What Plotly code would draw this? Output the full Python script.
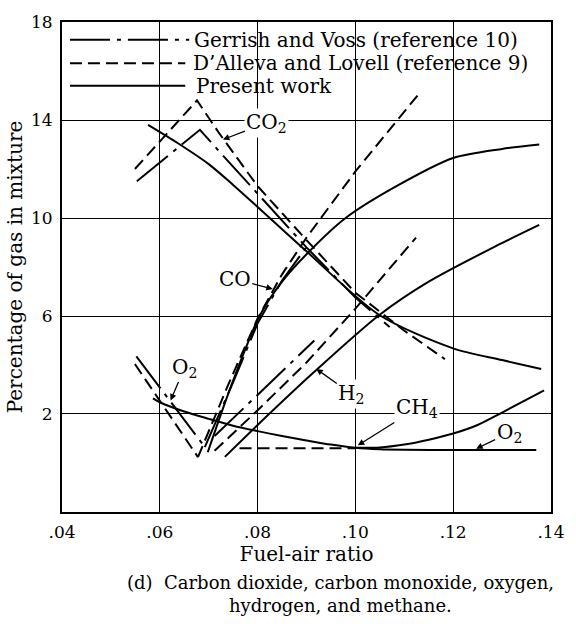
import plotly.graph_objects as go

# ---- axis ticks ----
x_tick_vals = [0.04, 0.06, 0.08, 0.10, 0.12, 0.14]
x_tick_text = [".04", ".06", ".08", ".10", ".12", ".14"]
y_tick_vals = [2, 6, 10, 14, 18]
y_tick_text = ["2", "6", "10", "14", "18"]

# ---- Present work ----
pw_co2_x = [0.0576, 0.0641, 0.070, 0.075, 0.080, 0.090, 0.1049, 0.120, 0.130, 0.138]
pw_co2_y = [13.8, 13.0, 12.2, 11.35, 10.45, 8.64, 6.04, 4.68, 4.2, 3.84]
pw_co_x = [0.0698, 0.0745, 0.0804, 0.085, 0.090, 0.098, 0.1084, 0.120, 0.130, 0.1376]
pw_co_y = [0.44, 3.1, 6.0, 7.4, 8.52, 10.0, 11.3, 12.45, 12.82, 13.0]
pw_h2_x = [0.0733, 0.080, 0.0916, 0.1049, 0.115, 0.1294, 0.1376]
pw_h2_y = [0.25, 1.55, 3.72, 6.04, 7.4, 8.92, 9.72]
pw_o2_x = [0.0586, 0.060, 0.065, 0.070, 0.075, 0.080, 0.085, 0.090, 0.095,
           0.100, 0.105, 0.110, 0.120, 0.130, 0.137]
pw_o2_y = [2.64, 2.48, 2.1, 1.8, 1.52, 1.3, 1.1, 0.92, 0.75,
           0.62, 0.56, 0.54, 0.53, 0.53, 0.53]
pw_ch4_x = [0.100, 0.105, 0.110, 0.115, 0.120, 0.125, 0.130, 0.1386]
pw_ch4_y = [0.62, 0.63, 0.75, 0.95, 1.2, 1.55, 2.06, 2.96]

# ---- Gerrish and Voss (reference 10) ----
gv_co2_x = [0.0553, 0.0682, 0.072, 0.080, 0.090, 0.100, 0.107]
gv_co2_y = [11.5, 13.6, 12.75, 11.0, 8.8, 6.75, 5.55]
gv_o2_x = [0.0552, 0.0692]
gv_o2_y = [4.35, 0.65]
gv_co_x = [0.0692, 0.075, 0.080, 0.085, 0.0905]
gv_co_y = [0.65, 3.3, 5.7, 7.45, 8.95]
gv_h2_x = [0.0712, 0.0916]
gv_h2_y = [1.1, 5.0]

# ---- D'Alleva and Lovell (reference 9) ----
dl_co2_x = [0.0549, 0.0676, 0.072, 0.080, 0.090, 0.100, 0.110, 0.1183]
dl_co2_y = [12.0, 14.8, 13.5, 11.3, 9.1, 6.95, 5.4, 4.24]
dl_o2_x = [0.0549, 0.0678]
dl_o2_y = [4.04, 0.24]
dl_co_x = [0.0678, 0.074, 0.080, 0.085, 0.090, 0.100, 0.1127]
dl_co_y = [0.24, 3.2, 5.9, 7.7, 9.2, 11.9, 15.0]
dl_h2_x = [0.0712, 0.080, 0.090, 0.100, 0.1124]
dl_h2_y = [0.5, 2.15, 4.1, 6.3, 9.2]
dl_ch4_x = [0.0763, 0.100]
dl_ch4_y = [0.6, 0.6]

legend_labels = ["Gerrish and Voss (reference 10)",
                 "D\u2019Alleva and Lovell (reference 9)",
                 "Present work"]

FONT = "DejaVu Serif"
GV_DASH = "40px,7px,4px,7px"
DL_DASH = "12px,6px"
LW = 2

fig = go.Figure()


def add(x, y, dash="solid", smooth=False):
    fig.add_trace(go.Scatter(
        x=x, y=y, mode="lines", hoverinfo="skip", showlegend=False,
        line=dict(color="black", width=LW, dash=dash,
                  shape="spline" if smooth else "linear",
                  smoothing=0.8 if smooth else None),
    ))


# Present work curves
add(pw_co2_x, pw_co2_y, smooth=True)
add(pw_co_x, pw_co_y, smooth=True)
add(pw_h2_x, pw_h2_y, smooth=True)
add(pw_o2_x, pw_o2_y, smooth=True)
add(pw_ch4_x, pw_ch4_y, smooth=True)

# Gerrish and Voss
add(gv_co2_x, gv_co2_y, GV_DASH)
add(gv_o2_x, gv_o2_y, GV_DASH)
add(gv_co_x, gv_co_y, GV_DASH)
add(gv_h2_x, gv_h2_y, GV_DASH)

# D'Alleva and Lovell
add(dl_co2_x, dl_co2_y, DL_DASH)
add(dl_o2_x, dl_o2_y, DL_DASH)
add(dl_co_x, dl_co_y, DL_DASH)
add(dl_h2_x, dl_h2_y, DL_DASH)
add(dl_ch4_x, dl_ch4_y, DL_DASH)

# plot-area geometry (px) used for the key placed inside the frame
L, R, T, B = 62, 554, 13, 512


def px(xp):
    return (xp - L) / (R - L)


def py(yp):
    return (B - yp) / (B - T)


shapes = [
    # white band behind the key so the grid stops below it
    dict(type="rect", xref="paper", yref="paper", x0=0, x1=1, y0=py(88), y1=1,
         fillcolor="white", line=dict(width=0), layer="between"),
]
key_rows = [(31, GV_DASH, 190, 193), (55, DL_DASH, 186, 192), (78, "solid", 186, 195)]
annotations = []
for (yrow, dash, xend, xtext), label in zip(key_rows, legend_labels):
    shapes.append(dict(type="line", xref="paper", yref="paper",
                       x0=px(70), x1=px(xend), y0=py(yrow), y1=py(yrow),
                       line=dict(color="black", width=LW, dash=dash)))
    annotations.append(dict(xref="paper", yref="paper", x=px(xtext), y=py(yrow),
                            text=label, showarrow=False, xanchor="left",
                            yanchor="middle", font=dict(family=FONT, size=20)))

# gas labels with leader arrows
gas_labels = [
    ("CO<sub>2</sub>", 0.0729, 13.2, 44, -17),
    ("CO", 0.0831, 7.1, -38, -10),
    ("O<sub>2</sub>", 0.0622, 2.55, 14, -33),
    ("H<sub>2</sub>", 0.0920, 3.84, 35, 25),
    ("CH<sub>4</sub>", 0.1005, 0.72, 59, -37),
    ("O<sub>2</sub>", 0.1247, 0.58, 33, -16),
]
for text, xa, ya, ax, ay in gas_labels:
    annotations.append(dict(x=xa, y=ya, xref="x", yref="y", text=text,
                            showarrow=True, ax=ax, ay=ay, arrowhead=2,
                            arrowsize=1, arrowwidth=1.3, arrowcolor="black",
                            bgcolor="white", borderpad=1,
                            font=dict(family=FONT, size=20)))

# caption
annotations.append(dict(xref="paper", yref="paper", x=px(342), y=py(584),
                        text="(d)\u00a0\u00a0Carbon dioxide, carbon monoxide, oxygen,",
                        showarrow=False, xanchor="center", yanchor="middle",
                        font=dict(family=FONT, size=18)))
annotations.append(dict(xref="paper", yref="paper", x=px(342), y=py(607),
                        text="hydrogen, and methane.",
                        showarrow=False, xanchor="center", yanchor="middle",
                        font=dict(family=FONT, size=18)))

axis_common = dict(showgrid=True, gridcolor="black", gridwidth=1.3,
                   showline=True, linecolor="black", linewidth=2, mirror=True,
                   ticks="", zeroline=False,
                   tickfont=dict(family=FONT, size=17, color="black"))

fig.update_layout(
    width=576, height=628,
    margin=dict(l=L, r=576 - R, t=T, b=628 - B),
    paper_bgcolor="white", plot_bgcolor="white",
    showlegend=False,
    font=dict(family=FONT, color="black"),
    xaxis=dict(range=[0.03999, 0.14001], tickvals=x_tick_vals, ticktext=x_tick_text,
               ticklabelstandoff=4,
               title=dict(text="Fuel-air ratio", font=dict(family=FONT, size=20),
                          standoff=5),
               **axis_common),
    yaxis=dict(range=[-2.001, 18.001], tickvals=y_tick_vals, ticktext=y_tick_text,
               ticklabelstandoff=4,
               title=dict(text="Percentage of gas in mixture",
                          font=dict(family=FONT, size=20), standoff=3),
               **axis_common),
    shapes=shapes,
    annotations=annotations,
)

fig.write_html("out.html")
